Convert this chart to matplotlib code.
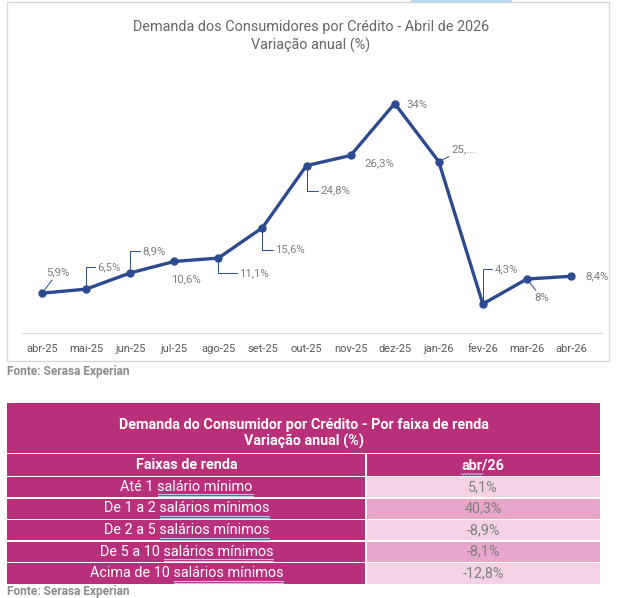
import matplotlib
matplotlib.use("Agg")
import matplotlib.pyplot as plt
from matplotlib.patches import Rectangle

W, H = 619, 598

# line chart data
months = ["abr-25", "mai-25", "jun-25", "jul-25", "ago-25", "set-25", "out-25",
          "nov-25", "dez-25", "jan-26", "fev-26", "mar-26", "abr-26"]
demand = [5.9, 6.5, 8.9, 10.6, 11.1, 15.6, 24.8, 26.3, 34.0, 25.4, 4.3, 8.0, 8.4]
point_labels = ["5,9%", "6,5%", "8,9%", "10,6%", "11,1%", "15,6%", "24,8%",
                "26,3%", "34%", "25,...", "4,3%", "8%", "8,4%"]

# table data
income_bands = ["Até 1 salário mínimo", "De 1 a 2 salários mínimos",
                "De 2 a 5 salários mínimos", "De 5 a 10 salários mínimos",
                "Acima de 10 salários mínimos"]
band_values = ["5,1%", "40,3%", "-8,9%", "-8,1%", "-12,8%"]

LINE = "#2C4A8F"
GREY_TXT = "#7F7F7F"
MAGENTA = "#B8307A"
PINK_LIGHT = "#F3D2E6"
PINK_MID = "#E8A6CA"
SQUIG = "#B9C6EC"
TBL_FS = 10.4

plt.rcParams["font.family"] = ["Roboto", "DejaVu Sans"]

fig = plt.figure(figsize=(W / 100, H / 100), dpi=100)

# full-figure canvas in pixel coordinates (frame, table, notes)
cv = fig.add_axes([0, 0, 1, 1], zorder=0)
cv.set_xlim(0, W)
cv.set_ylim(H, 0)
cv.axis("off")

# chart frame
cv.add_patch(Rectangle((7, 2), 602, 359, fill=False, ec="#D9D9D9", lw=1))
cv.add_patch(Rectangle((411, 0), 101, 2.5, fc="#BDD7EE", ec="none"))
cv.text(311, 27, "Demanda dos Consumidores por Crédito - Abril de 2026",
        ha="center", va="center", fontsize=10.4, color="#666666")
cv.text(311, 45, "Variação anual (%)", ha="center", va="center",
        fontsize=10.4, color="#666666")
cv.text(7, 371, "Fonte: Serasa Experian", ha="left", va="center",
        fontsize=8.6, fontweight="bold", color="#8C8C8C")

# line chart
left, right, top, bottom = 20, 593, 63, 333
ax = fig.add_axes([left / W, 1 - bottom / H, (right - left) / W, (bottom - top) / H],
                  zorder=2)
ax.patch.set_alpha(0)
x = list(range(len(months)))
ax.plot(x, demand, "-o", color=LINE, lw=2.4, ms=5, solid_capstyle="round")
ax.set_xlim(-0.5, len(months) - 0.5)
ax.set_ylim(0, 40)
ax.set_xticks(x)
ax.set_xticklabels(months, fontsize=8, color="#595959")
ax.tick_params(axis="x", length=0, pad=8)
ax.set_yticks([])
for s in ("top", "right", "left"):
    ax.spines[s].set_visible(False)
ax.spines["bottom"].set_color("#D9D9D9")
ax.spines["bottom"].set_bounds(-0.45, len(months) - 0.3)

# label offsets (pixels, +down) and leader style
offsets = [(16, -21, "line"), (23, -22, "angle"), (24, -22, "angle"),
           (12, 18, None), (36, 15, "angle"), (28, 22, "angle"),
           (29, 25, "angle"), (29, 8, None), (22, 1, None),
           (25, -12, "line"), (24, -35, "angle"), (15, 19, "line"),
           (26, 0, None)]
for xi, yi, lab, (dx, dy, lead) in zip(x, demand, point_labels, offsets):
    props = None
    if lead == "line":
        props = dict(arrowstyle="-", color=LINE, lw=0.7, shrinkA=0, shrinkB=3)
    elif lead == "angle":
        props = dict(arrowstyle="-", color=LINE, lw=0.7, shrinkA=0, shrinkB=3,
                     connectionstyle="angle,angleA=0,angleB=90,rad=0")
    ax.annotate(lab, (xi, yi), xytext=(dx, -dy), textcoords="offset pixels",
                ha="center", va="center", fontsize=8.2, color=GREY_TXT,
                arrowprops=props)

# table
tx0, tx1, split = 7, 600, 366
cv.add_patch(Rectangle((tx0, 403), tx1 - tx0, 50, fc=MAGENTA, ec="none"))
cv.text((tx0 + tx1) / 2, 425, "Demanda do Consumidor por Crédito - Por faixa de renda",
        ha="center", va="center", fontsize=TBL_FS, fontweight="bold", color="white")
cv.text((tx0 + tx1) / 2, 441, "Variação anual (%)", ha="center", va="center",
        fontsize=TBL_FS, fontweight="bold", color="white")
cv.add_patch(Rectangle((tx0, 454), split - tx0 - 1, 22, fc=MAGENTA, ec="none"))
cv.add_patch(Rectangle((split + 1, 454), tx1 - split - 1, 22, fc=MAGENTA, ec="none"))
cv.text((tx0 + split) / 2, 465, "Faixas de renda", ha="center", va="center",
        fontsize=TBL_FS, fontweight="bold", color="white")
hdr = cv.text((split + tx1) / 2, 465, "abr/26", ha="center", va="center",
              fontsize=TBL_FS, fontweight="bold", color="white")

row_h = 21.6
row_texts = []
for i, (band, val) in enumerate(zip(income_bands, band_values)):
    y0 = 477 + i * row_h
    cv.add_patch(Rectangle((tx0, y0), split - tx0 - 1, row_h - 1.5, fc=MAGENTA, ec="none"))
    cv.add_patch(Rectangle((split + 1, y0), tx1 - split - 1, row_h - 1.5,
                           fc=PINK_LIGHT if i % 2 == 0 else PINK_MID, ec="none"))
    t = cv.text((tx0 + split) / 2, y0 + row_h / 2 - 1, band, ha="center", va="center",
                fontsize=TBL_FS, color="white")
    row_texts.append(t)
    cv.text((split + tx1) / 2, y0 + row_h / 2 - 1, val, ha="center", va="center",
            fontsize=TBL_FS, color=GREY_TXT)

cv.text(7, 591, "Fonte: Serasa Experian", ha="left", va="center",
        fontsize=8.6, fontweight="bold", color="#8C8C8C")

# spell-check style underlines under "salário(s) mínimo(s)" and "abr"
fig.canvas.draw()
rend = fig.canvas.get_renderer()
inv = cv.transData.inverted()


def part_span(txt, start):
    full = txt.get_window_extent(rend)
    tmp = cv.text(0, 0, txt.get_text()[:start], fontsize=txt.get_fontsize(),
                  fontweight=txt.get_fontweight())
    pre = tmp.get_window_extent(rend).width if start else 0
    tmp.remove()
    xa = inv.transform((full.x0 + pre, full.y0))
    xb = inv.transform((full.x1, full.y0))
    return xa[0], xb[0], xa[1]


for t in row_texts:
    s = t.get_text()
    k = s.index("salár")
    xa, xb, yb = part_span(t, k)
    for off in (0.5, 2.5):
        cv.plot([xa + 1, xb], [yb + off, yb + off], color=SQUIG, lw=0.8)

full = hdr.get_window_extent(rend)
tmp = cv.text(0, 0, "abr", fontsize=TBL_FS, fontweight="bold")
wabr = tmp.get_window_extent(rend).width
tmp.remove()
xa, yb = inv.transform((full.x0, full.y0))
xb = inv.transform((full.x0 + wabr, full.y0))[0]
zx, zy = [], []
n = 12
for j in range(n + 1):
    zx.append(xa + (xb - xa) * j / n)
    zy.append(yb + 1.5 + (1.2 if j % 2 else 0))
cv.plot(zx, zy, color=SQUIG, lw=0.7)

fig.savefig("out.png", dpi=100)
